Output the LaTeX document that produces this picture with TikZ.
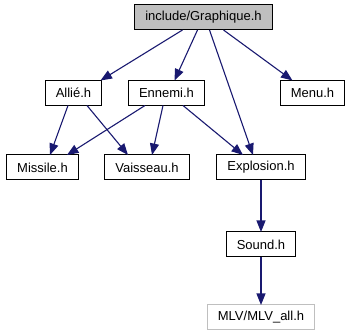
\documentclass[tikz,border=0pt]{standalone}
\usepackage{fontspec}
\setmainfont{Liberation Sans}
\usetikzlibrary{positioning,arrows.meta}
\definecolor{edgeblue}{RGB}{25,25,112}
\definecolor{boxgray}{RGB}{191,191,191}

\begin{document}
\begin{tikzpicture}
[every node/.style={draw=black,line width=1pt,minimum height=25pt,inner xsep=10.5pt,inner ysep=0pt,outer sep=0pt,font=\fontsize{13}{15}\selectfont},
 file/.style={rectangle},
 main/.style={rectangle,fill=boxgray},
 ext/.style={rectangle,draw=boxgray},
 dep/.style={-{Triangle[length=11.5pt,width=9pt]},edgeblue,line width=1.1pt}]
\node[main] (g)                                                 {include/Graphique.h};
\node[file] (allie)     [on grid,below  left=75.5pt and 130pt of g]     {Allié.h};
\node[file] (ennemi)    [on grid,below  left=75.5pt and 37pt of g]      {Ennemi.h};
\node[file] (menu)      [on grid,below right=75.5pt and 109pt of g]     {Menu.h};
\node[file] (missile)   [on grid,below  left=74.5pt and 31pt of allie]  {Missile.h};
\node[file] (vaisseau)  [on grid,below right=74.5pt and 73.5pt of allie]{Vaisseau.h};
\node[file] (explosion) [on grid,below right=74.5pt and 94.5pt of ennemi]{Explosion.h};
\node[file] (sound)     [on grid,below=77pt of explosion]               {Sound.h};
\node[ext]  (mlv)       [on grid,below=73pt of sound]                   {MLV/MLV\_all.h};
\path[dep] ([xshift=-21pt]g.south)        edge ([xshift=27pt]allie.north);
\path[dep] ([xshift=-6pt]g.south)         edge ([xshift=8pt]ennemi.north);
\path[dep] ([xshift=6pt]g.south)          edge ([xshift=-8pt]explosion.north);
\path[dep] ([xshift=20pt]g.south)         edge ([xshift=-20pt]menu.north);
\path[dep] ([xshift=-5.5pt]allie.south)   edge ([xshift=7.5pt]missile.north);
\path[dep] ([xshift=13.5pt]allie.south)   edge ([xshift=-19pt]vaisseau.north);
\path[dep] ([xshift=-21.5pt]ennemi.south) edge ([xshift=24.5pt]missile.north);
\path[dep] ([xshift=-3.5pt]ennemi.south)  edge ([xshift=5pt]vaisseau.north);
\path[dep] ([xshift=16.5pt]ennemi.south)  edge ([xshift=-18pt]explosion.north);
\path[dep] (explosion) edge (sound);
\path[dep] (sound)     edge (mlv);

% fixed frame round the graph
\useasboundingbox ([xshift=-203.5pt,yshift=17.5pt]g.center) rectangle ++(351pt,-336pt);
\end{tikzpicture}
\end{document}
